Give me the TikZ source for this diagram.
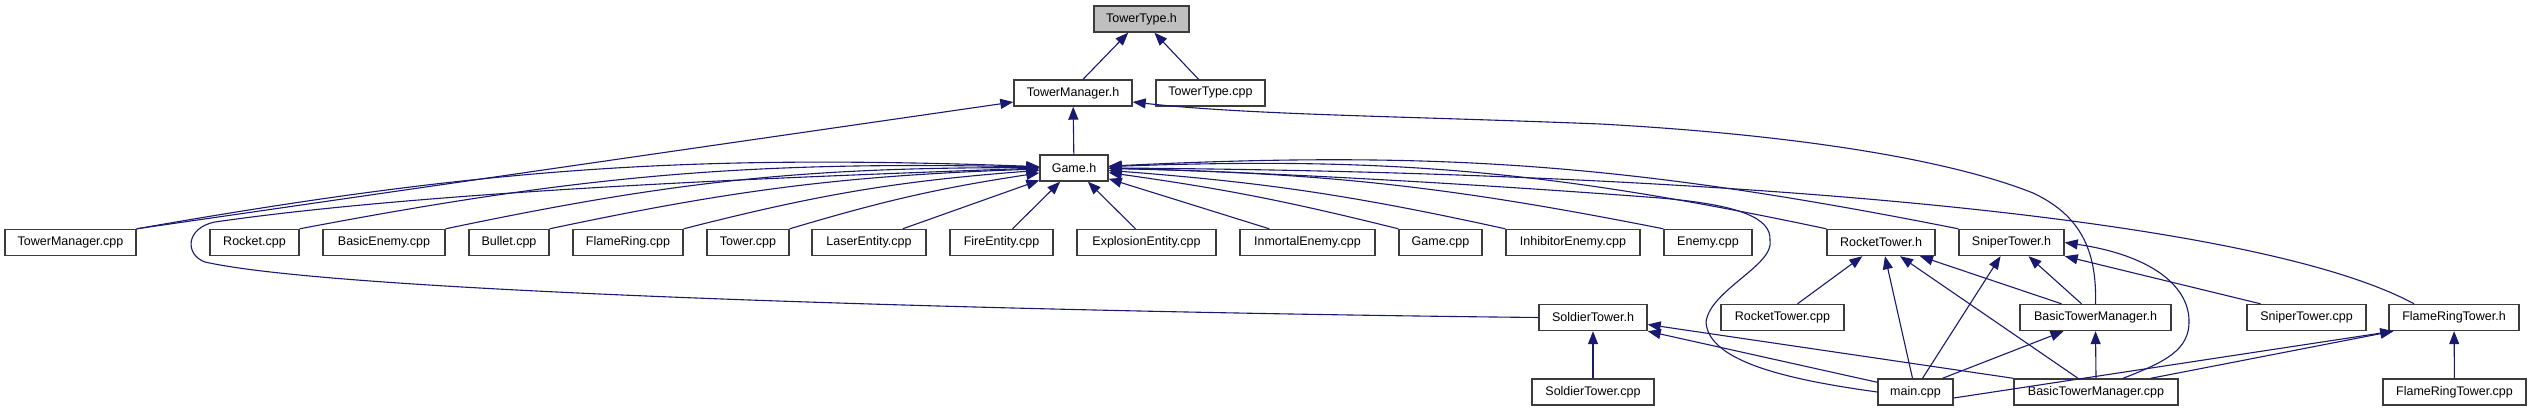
\documentclass[tikz,border=0pt]{standalone}
\usepackage{fontspec}
\setmainfont{Liberation Sans}
\usepackage{tikz}
\usetikzlibrary{arrows.meta}
\definecolor{incblue}{RGB}{25,25,112}
\definecolor{rootgray}{RGB}{191,191,191}
\definecolor{boxline}{RGB}{60,60,60}
\tikzset{
  filebox/.style={rectangle, draw=boxline, fill=white, line width=1.4pt,
    minimum height=26pt, inner sep=0pt, font=\fontsize{12.5}{14}\selectfont},
  rootbox/.style={filebox, fill=rootgray},
  incarrow/.style={-{Triangle[length=13pt,width=10pt]}, line width=1.1pt, color=incblue}
}
\begin{document}
\begin{tikzpicture}[x=1pt, y=1pt]
  \useasboundingbox (0,0) rectangle (2531,-411);

  % top rows
  \node[rootbox, minimum width=95pt] (ttH) at (1141.5,-19) {TowerType.h};
  \node[filebox, minimum width=118pt] (tmH) at (1073,-93) {TowerManager.h};
  \node[filebox, minimum width=109pt] (ttCpp) at (1210.5,-93) {TowerType.cpp};
  \node[filebox, minimum width=68pt] (gameH) at (1074,-168) {Game.h};

  % includers of Game.h
  \node[filebox, minimum width=131pt] (tmCpp) at (70.5,-242.5) {TowerManager.cpp};
  \node[filebox, minimum width=89pt] (rocketCpp) at (254.5,-242.5) {Rocket.cpp};
  \node[filebox, minimum width=122pt] (basicEnemyCpp) at (384,-242.5) {BasicEnemy.cpp};
  \node[filebox, minimum width=80pt] (bulletCpp) at (509,-242.5) {Bullet.cpp};
  \node[filebox, minimum width=110pt] (flameRingCpp) at (628,-242.5) {FlameRing.cpp};
  \node[filebox, minimum width=82pt] (towerCpp) at (748,-242.5) {Tower.cpp};
  \node[filebox, minimum width=114pt] (laserCpp) at (869,-242.5) {LaserEntity.cpp};
  \node[filebox, minimum width=103pt] (fireCpp) at (1001.5,-242.5) {FireEntity.cpp};
  \node[filebox, minimum width=139pt] (explosionCpp) at (1146.5,-242.5) {ExplosionEntity.cpp};
  \node[filebox, minimum width=135pt] (inmortalCpp) at (1307.5,-242.5) {InmortalEnemy.cpp};
  \node[filebox, minimum width=83pt] (gameCpp) at (1440.5,-242.5) {Game.cpp};
  \node[filebox, minimum width=134pt] (inhibitorCpp) at (1573,-242.5) {InhibitorEnemy.cpp};
  \node[filebox, minimum width=88pt] (enemyCpp) at (1708,-242.5) {Enemy.cpp};
  \node[filebox, minimum width=108pt] (rocketTowerH) at (1881,-242.5) {RocketTower.h};
  \node[filebox, minimum width=105pt] (sniperTowerH) at (2011.5,-242.5) {SniperTower.h};

  % tower headers and sources
  \node[filebox, minimum width=108pt] (soldierTowerH) at (1593,-317.5) {SoldierTower.h};
  \node[filebox, minimum width=123pt] (rocketTowerCpp) at (1782.5,-317.5) {RocketTower.cpp};
  \node[filebox, minimum width=151pt] (btmH) at (2095.5,-317.5) {BasicTowerManager.h};
  \node[filebox, minimum width=119pt] (sniperTowerCpp) at (2306.5,-317.5) {SniperTower.cpp};
  \node[filebox, minimum width=130pt] (flameRingTowerH) at (2454,-317.5) {FlameRingTower.h};
  \node[filebox, minimum width=122pt] (soldierTowerCpp) at (1593,-392) {SoldierTower.cpp};
  \node[filebox, minimum width=75pt] (mainCpp) at (1915.5,-392) {main.cpp};
  \node[filebox, minimum width=164pt] (btmCpp) at (2096,-392) {BasicTowerManager.cpp};
  \node[filebox, minimum width=143pt] (flameRingTowerCpp) at (2454.5,-392) {FlameRingTower.cpp};

  % TowerType.h and TowerManager.h
  \draw[incarrow] ([xshift=10pt]tmH.north) -- (ttH);
  \draw[incarrow] ([xshift=-12pt]ttCpp.north) -- (ttH);
  \draw[incarrow] (gameH) -- (tmH);
  \draw[incarrow] (tmCpp.north east) -- ([yshift=-9pt]tmH.west);
  \draw[incarrow] (btmH.north) .. controls (2097,-250) and (2080,-215) .. (2033,-193)
    .. controls (1950,-160) and (1800,-135) .. (1600,-124)
    .. controls (1400,-116) and (1250,-115) .. ([yshift=-9pt]tmH.east);

  % into Game.h
  \draw[incarrow] (tmCpp.north east) to[bend left=6] (gameH);
  \draw[incarrow] (rocketCpp.north east) to[bend left=6] (gameH);
  \draw[incarrow] (basicEnemyCpp.north east) to[bend left=6] (gameH);
  \draw[incarrow] (bulletCpp.north east) to[bend left=5] (gameH);
  \draw[incarrow] (flameRingCpp.north east) to[bend left=5] (gameH);
  \draw[incarrow] (towerCpp.north east) to[bend left=4] (gameH);
  \draw[incarrow] ([xshift=-24pt]laserCpp.north east) -- (gameH);
  \draw[incarrow] ([xshift=11pt]fireCpp.north) -- (gameH);
  \draw[incarrow] ([xshift=-11pt]explosionCpp.north) -- (gameH);
  \draw[incarrow] ([xshift=30pt]inmortalCpp.north west) -- (gameH);
  \draw[incarrow] (gameCpp.north west) to[bend right=3] (gameH);
  \draw[incarrow] (inhibitorCpp.north west) to[bend right=4] (gameH);
  \draw[incarrow] (enemyCpp.north west) to[bend right=5] (gameH);
  \draw[incarrow] (rocketTowerH.north west) to[bend right=7] (gameH);
  \draw[incarrow] (sniperTowerH.north west) to[bend right=7] (gameH);
  \draw[incarrow] ([xshift=-40pt]flameRingTowerH.north) .. controls (2250,-215) and (1700,-172) .. (gameH.east);
  \draw[incarrow] (soldierTowerH.west) .. controls (1100,-313) and (350,-295) .. (205,-262)
    .. controls (185,-255) and (185,-228) .. (215,-222)
    .. controls (450,-188) and (850,-175) .. (gameH.west);
  \draw[incarrow] (mainCpp.west) .. controls (1790,-380) and (1708,-362) .. (1706,-322)
    .. controls (1710,-290) and (1775,-265) .. (1770,-240)
    .. controls (1771,-218) and (1740,-205) .. (1660,-198)
    .. controls (1450,-182) and (1250,-172) .. (gameH.east);

  % tower headers
  \draw[incarrow] ([xshift=15pt]rocketTowerCpp.north) -- (rocketTowerH);
  \draw[incarrow] ([xshift=-3pt]mainCpp.north) -- ([xshift=4pt]rocketTowerH.south);
  \draw[incarrow] ([xshift=7pt]mainCpp.north) -- ([xshift=-11pt]sniperTowerH.south);
  \draw[incarrow] ([xshift=27pt]mainCpp.north) -- ([xshift=-32pt]btmH.south);
  \draw[incarrow] ([yshift=-4pt]mainCpp.north west) -- (soldierTowerH.south east);
  \draw[incarrow] ([yshift=-6pt]mainCpp.east) -- ([xshift=5pt]flameRingTowerH.south west);
  \draw[incarrow] ([xshift=-34pt]btmH.north) -- ([xshift=39pt]rocketTowerH.south);
  \draw[incarrow] ([xshift=-14pt]btmH.north) -- ([xshift=17pt]sniperTowerH.south);
  \draw[incarrow] ([xshift=-18pt]btmCpp.north) -- ([xshift=19pt]rocketTowerH.south);
  \draw[incarrow] (btmCpp.north west) -- ([yshift=-7pt]soldierTowerH.east);
  \draw[incarrow] (btmCpp.north) -- (btmH.south);
  \draw[incarrow] ([xshift=-28pt]btmCpp.north east) -- ([xshift=5pt]flameRingTowerH.south west);
  \draw[incarrow] ([xshift=27pt]btmCpp.north) .. controls (2165,-362) and (2190,-350) .. (2189,-320)
    .. controls (2188,-285) and (2150,-255) .. (sniperTowerH.east);
  \draw[incarrow] ([xshift=-46pt]sniperTowerCpp.north) -- (sniperTowerH.south east);
  \draw[incarrow] (soldierTowerCpp) -- (soldierTowerH);
  \draw[incarrow] (flameRingTowerCpp) -- (flameRingTowerH);
\end{tikzpicture}
\end{document}
